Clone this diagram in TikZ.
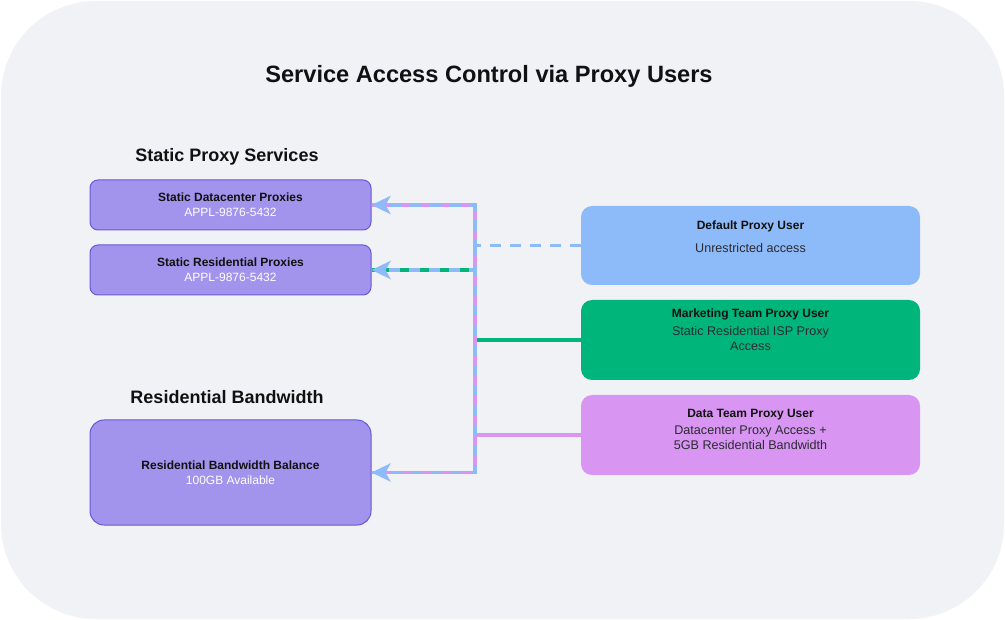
\documentclass[tikz,border=0pt]{standalone}
\usepackage{fontspec}
\setmainfont{Liberation Sans}
\usetikzlibrary{arrows.meta}
\definecolor{bgc}{HTML}{F1F2F6}
\definecolor{svcfill}{HTML}{A294EC}
\definecolor{svcborder}{HTML}{6A57D8}
\definecolor{bluec}{HTML}{8DBAF8}
\definecolor{greenc}{HTML}{00B57A}
\definecolor{pinkc}{HTML}{D896F2}
\definecolor{inkc}{HTML}{111111}
\definecolor{subc}{HTML}{2B2B33}
\tikzset{
  svcbox/.style={draw=svcborder, line width=1pt, fill=svcfill, rounded corners=8pt,
    minimum width=281pt, minimum height=50pt, inner sep=0pt, align=center,
    font=\fontsize{12}{15}\selectfont, text=inkc},
  userbox/.style={fill=#1, rounded corners=11pt, minimum width=339pt, minimum height=79pt, inner sep=0pt},
  boxtitle/.style={font=\fontsize{12}{15}\selectfont\bfseries, text=inkc, inner sep=0pt, align=center},
  boxsub/.style={font=\fontsize{12.6}{15}\selectfont, text=subc, inner sep=0pt, align=center},
  heading/.style={font=\fontsize{18}{22}\selectfont\bfseries, text=inkc, inner sep=0pt},
  conn/.style={line width=3.5pt},
  pinkln/.style={conn, draw=pinkc},
  greenln/.style={conn, draw=greenc},
  blueln/.style={conn, draw=bluec, dash pattern=on 11pt off 9pt},
  bluetip/.style={-{Stealth[length=19pt,width=18pt,inset=5pt,fill=bluec]}}
}
\begin{document}
\begin{tikzpicture}[x=1pt,y=-1pt]
\useasboundingbox (0,0) rectangle (1005,620);
\fill[white] (0,0) rectangle (1005,620);
\fill[bgc, rounded corners=95pt] (1,1) rectangle (1004,619);

\node[font=\fontsize{23.6}{28}\selectfont\bfseries, text=inkc, inner sep=0pt] (title) at (489,76) {Service Access Control via Proxy Users};

\node[heading] (hstatic) at (227,157) {Static Proxy Services};
\node[heading] (hres) at (227,397) {Residential Bandwidth};

\node[svcbox] (box1) at (230.5,205) {\textbf{Static Datacenter Proxies}\\\textcolor{white}{APPL-9876-5432}};
\node[svcbox] (box2) at (230.5,270) {\textbf{Static Residential Proxies}\\\textcolor{white}{APPL-9876-5432}};
\node[svcbox, minimum height=105pt, rounded corners=14pt] (box3) at (230.5,472.5) {\textbf{Residential Bandwidth Balance}\\\textcolor{white}{100GB Available}};

\node[userbox=bluec] (def) at (750.5,245.5) {};
\node[userbox=greenc, minimum height=80pt] (mkt) at (750.5,340) {};
\node[userbox=pinkc, minimum height=80pt] (data) at (750.5,435) {};

\node[boxtitle] (deft) at ([yshift=-21pt]def.north) {Default Proxy User};
\node[boxsub] (defs) at ([yshift=-42pt]def.north) {Unrestricted access};
\node[boxtitle] (mktt) at ([yshift=-15pt]mkt.north) {Marketing Team Proxy User};
\node[boxsub, anchor=north] (mkts) at ([yshift=-26pt]mkt.north) {Static Residential ISP Proxy\\Access};
\node[boxtitle] (datat) at ([yshift=-20pt]data.north) {Data Team Proxy User};
\node[boxsub, anchor=north] (datas) at ([yshift=-31pt]data.north) {Datacenter Proxy Access +\\5GB Residential Bandwidth};

\coordinate (bus) at (475,0);

% Marketing team (green)
\draw[greenln] (mkt.west) -- (mkt.west -| bus) -- (box2.east -| bus) -- (box2.east);
% Data team (pink)
\draw[pinkln] (data.west) -- (data.west -| bus) -- (box1.east -| bus) -- (box1.east);
\draw[pinkln] (data.west -| bus) -- (box3.east -| bus) -- (box3.east);
% Default user (blue dashed)
\draw[blueln, bluetip] (def.west) -- (def.west -| bus) -- (box1.east -| bus) -- (box1.east);
\draw[blueln, bluetip] (def.west -| bus) -- (box2.east -| bus) -- (box2.east);
\draw[blueln, bluetip] (def.west -| bus) -- (box3.east -| bus) -- (box3.east);
\end{tikzpicture}
\end{document}
